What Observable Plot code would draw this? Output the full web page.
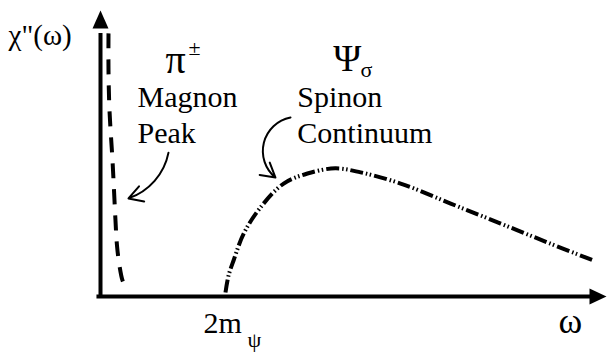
<!DOCTYPE html>
<html>
<head>
<meta charset="utf-8">
<script src="https://cdn.jsdelivr.net/npm/d3@7"></script>
<script src="https://cdn.jsdelivr.net/npm/@observablehq/plot@0.6"></script>
<style>
  html, body { margin: 0; padding: 0; background: #fff; }
  #chart svg { display: block; }
</style>
</head>
<body>
<div id="chart"></div>
<script>
// Magnon peak (dashed)
const magnonOmega = [0.158, 0.158, 0.178, 0.237, 0.267, 0.296, 0.326, 0.375, 0.435, 0.534];
const magnonChi   = [9.20, 7.90, 6.50, 4.76, 3.71, 2.66, 1.78, 1.08, 0.56, 0.17];
// Spinon continuum (dash-dot-dot)
const spinonOmega = [2.47, 2.53, 2.63, 2.83, 3.16, 3.62, 4.09, 4.64, 5.14, 5.93, 6.92, 7.91, 8.89, 9.74];
const spinonChi   = [0.14, 0.73, 1.26, 2.20, 3.11, 3.95, 4.30, 4.48, 4.34, 3.95, 3.25, 2.55, 1.85, 1.26];

const magnon = magnonOmega.map((x, i) => ({x, y: magnonChi[i]}));
const spinon = spinonOmega.map((x, i) => ({x, y: spinonChi[i]}));

const serif = "Liberation Serif";

const upHead = {draw(ctx) { ctx.moveTo(0, 0); ctx.lineTo(-8, 18); ctx.lineTo(8, 18); ctx.closePath(); }};
const rightHead = {draw(ctx) { ctx.moveTo(0, 0); ctx.lineTo(-17, -8); ctx.lineTo(-17, 8); ctx.closePath(); }};

function label(text, x, y, size) {
  return Plot.text([{x, y}], {x: "x", y: "y", text: () => text, fontSize: size,
    fontFamily: serif, textAnchor: "start", lineAnchor: "bottom", fill: "black"});
}

const chart = Plot.plot({
  width: 608,
  height: 352,
  marginLeft: 100,
  marginRight: 2,
  marginTop: 10,
  marginBottom: 56,
  x: {domain: [0, 10], axis: null},
  y: {domain: [0, 10], axis: null},
  marks: [
    // axes
    Plot.ruleX([0], {y1: -0.07, y2: 9.2, strokeWidth: 4, stroke: "black"}),
    Plot.ruleY([0], {x1: -0.07, x2: 9.7, strokeWidth: 4, stroke: "black"}),
    Plot.dot([{x: 0, y: 10}], {x: "x", y: "y", symbol: upHead, fill: "black", stroke: null}),
    Plot.dot([{x: 10, y: 0}], {x: "x", y: "y", symbol: rightHead, fill: "black", stroke: null}),
    // curves
    Plot.line(magnon, {x: "x", y: "y", curve: "catmull-rom", stroke: "black", strokeWidth: 4,
      strokeDasharray: "15,11", strokeLinecap: "butt"}),
    Plot.line(spinon, {x: "x", y: "y", curve: "catmull-rom", stroke: "black", strokeWidth: 4,
      strokeDasharray: "13,3,1.5,2.5,1.5,3", strokeLinecap: "butt"}),
    // annotation arrows
    Plot.arrow([{x1: 1.344, y1: 5.03, x2: 0.553, y2: 3.43}], {x1: "x1", y1: "y1", x2: "x2", y2: "y2",
      bend: 30, stroke: "black", strokeWidth: 2, headLength: 12}),
    Plot.arrow([{x1: 3.755, y1: 6.26, x2: 3.458, y2: 4.16}], {x1: "x1", y1: "y1", x2: "x2", y2: "y2",
      bend: -65, stroke: "black", strokeWidth: 2, headLength: 12}),
    // labels
    label("χ\"(ω)", -1.818, 8.78, 29),
    label("π", 1.285, 7.83, 40),
    label("±", 1.74, 8.43, 22),
    label("Magnon", 0.731, 6.61, 30),
    label("Peak", 0.731, 5.38, 30),
    label("Ψ", 4.60, 7.90, 38),
    label("σ", 5.14, 7.69, 22),
    label("Spinon", 3.89, 6.61, 30),
    label("Continuum", 3.89, 5.38, 30),
    label("2m", 2.036, -1.29, 30),
    label("ψ", 2.905, -1.75, 22),
    label("ω", 9.05, -1.29, 36)
  ]
});
document.getElementById("chart").appendChild(chart);
</script>
</body>
</html>
